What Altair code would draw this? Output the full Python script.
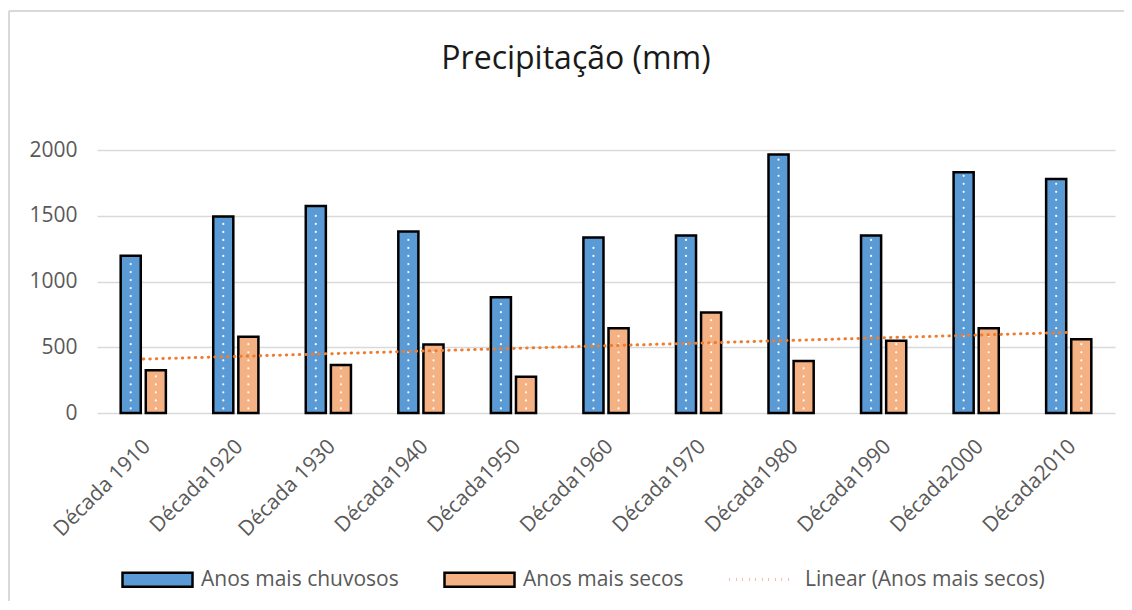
import json
import altair as alt
import pandas as pd

# ---- data ----
decadas = ["Década 1910", "Década1920", "Década 1930", "Década1940", "Década1950",
           "Década1960", "Década1970", "Década1980", "Década1990", "Década2000", "Década2010"]
chuvosos = [1195, 1495, 1575, 1380, 880, 1335, 1350, 1965, 1350, 1830, 1780]
secos = [325, 580, 365, 520, 275, 645, 765, 395, 550, 645, 560]
series = ["Anos mais chuvosos", "Anos mais secos"]
tendencia = "Linear (Anos mais secos)"
y_ticks = [0, 500, 1000, 1500, 2000]
titulo = "Precipitação (mm)"

rows = []
for i, d in enumerate(decadas):
    rows.append({"decada": d, "idx": i, "serie": series[0], "valor": chuvosos[i]})
    rows.append({"decada": d, "idx": i, "serie": series[1], "valor": secos[i]})
df = pd.DataFrame(rows)

FONT = "Open Sans"
GREY = "#595959"
BLUE = "#5B9BD5"
ORANGE = "#F4B183"
TREND = "#ED7D31"
FS = 21

x_axis = alt.Axis(title=None, labelAngle=-45, labelAlign="right", labelBaseline="middle",
                  labelFontSize=FS, labelColor=GREY, labelFont=FONT, labelPadding=30,
                  labelOffset=4, domain=False, ticks=False, grid=False)
x_enc = alt.X("decada:N", sort=decadas,
              scale=alt.Scale(domain=decadas, paddingInner=0.49, paddingOuter=0.245),
              axis=x_axis)
y_enc = alt.Y("valor:Q", scale=alt.Scale(domain=[0, 2000], nice=False),
              axis=alt.Axis(title=None, values=y_ticks, format="d", labelFontSize=FS,
                            labelColor=GREY, labelFont=FONT, labelPadding=20, domain=False,
                            ticks=False, gridColor="#D9D9D9", gridWidth=1.3))
xoff_enc = alt.XOffset("serie:N", sort=series,
                       scale=alt.Scale(domain=series, paddingInner=0.2, paddingOuter=0.04))

bar_path = "M-1,-0.2H1V0.2H-1Z"
bar_legend = alt.Legend(
    title=None, orient="none", legendX=24, legendY=393, direction="horizontal", columns=2,
    labelFontSize=FS, labelColor=GREY, labelFont=FONT, labelOffset=7, columnPadding=40,
    labelLimit=400, symbolSize=4900, symbolType=bar_path, symbolStrokeColor="black",
    symbolStrokeWidth=2.5, symbolOpacity=1,
)
line_legend = alt.Legend(
    title=None, orient="none", legendX=631, legendY=396, direction="horizontal",
    labelFontSize=FS, labelColor=GREY, labelFont=FONT, labelOffset=10, labelLimit=400,
    symbolSize=4096, symbolType="stroke", symbolStrokeWidth=3, symbolDash=[0.5, 6],
)

bars = alt.Chart(df).mark_bar(stroke="black", strokeWidth=2.5).encode(
    x=x_enc, y=y_enc, xOffset=xoff_enc,
    color=alt.Color("serie:N", scale=alt.Scale(domain=series, range=[BLUE, ORANGE]),
                    legend=bar_legend),
)

def dots(start, dx):
    return alt.Chart(df).transform_calculate(
        py=f"sequence({start}, datum.valor - 20, 122)"
    ).transform_flatten(["py"]).mark_point(
        filled=True, size=5, color="white", opacity=0.95, dx=dx
    ).encode(x=alt.X("decada:N", sort=decadas, axis=None), xOffset=xoff_enc,
             y=alt.Y("py:Q", axis=None))

dots_a = dots(35, -3.5)
dots_b = dots(96, 3.5)

labels_js = json.dumps(decadas, ensure_ascii=False)
line = alt.Chart(df).transform_filter(
    alt.datum.serie == series[1]
).transform_regression("idx", "valor").transform_calculate(
    decada=f"{labels_js}[datum.idx]", tend=f"'{tendencia}'"
).mark_line(strokeWidth=3, strokeDash=[0.5, 6], strokeCap="round").encode(
    x=alt.X("decada:N", sort=decadas, axis=None), y=alt.Y("valor:Q", axis=None),
    stroke=alt.Stroke("tend:N", scale=alt.Scale(domain=[tendencia], range=[TREND]),
                      legend=line_legend),
)

one = alt.Data(values=[{}])
border_left = alt.Chart(one).mark_rule(color="#D9D9D9", strokeWidth=2).encode(
    x=alt.value(-88), y=alt.value(-139), y2=alt.value(460))
border_top = alt.Chart(one).mark_rule(color="#D9D9D9", strokeWidth=2).encode(
    y=alt.value(-139), x=alt.value(-88), x2=alt.value(1030))

chart = alt.layer(bars, dots_a, dots_b, line, border_left, border_top).properties(
    width=1018, height=263,
    padding={"left": 89, "top": 142, "right": 9, "bottom": 188},
    autosize=alt.AutoSizeParams(type="none"),
    view=alt.ViewBackground(stroke="transparent", strokeWidth=0),
    title=alt.TitleParams(titulo, fontSize=32, font=FONT, color="#1a1a1a",
                          fontWeight="normal", offset=0, dy=66, dx=-30),
).resolve_scale(color="independent", stroke="independent").resolve_axis(
    x="independent", y="independent"
).configure_view(
    stroke="transparent", strokeWidth=0
).configure(font=FONT)

chart.save("out.html", embed_options={"renderer": "svg", "actions": False})
